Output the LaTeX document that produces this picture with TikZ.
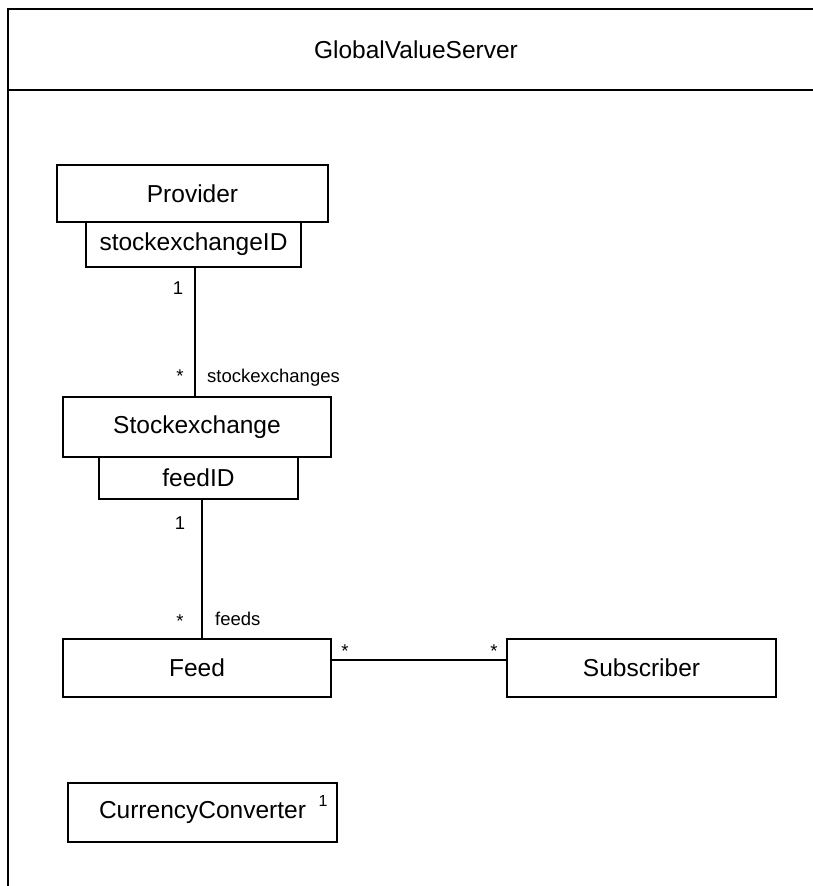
\documentclass[tikz,border=0pt]{standalone}
\usepackage{fontspec}
\setmainfont{Liberation Sans}
\begin{document}
\begin{tikzpicture}[x=1pt,y=-1pt,
  frame/.style={line width=1.4pt},
  cls/.style={draw, line width=1.4pt, inner sep=0pt, font=\fontsize{24.5}{28}\selectfont},
  lbl/.style={inner sep=0pt, font=\fontsize{18.5}{22}\selectfont},
  assoc/.style={line width=1.4pt}]
\useasboundingbox (0,0) rectangle (813,886);

% enclosing server frame, cut by the page edge on the right and bottom
\draw[frame] (8,886) -- (8,9) -- (813,9);
\draw[frame] (8,90) -- (813,90);
\node[font=\fontsize{24.5}{28}\selectfont] (title) at (416,50) {GlobalValueServer};

% classes and their qualifier boxes
\node[cls, minimum width=271pt, minimum height=57pt] (provider) at (192.5,193.5) {Provider};
\node[cls, minimum width=215pt, minimum height=45pt] (sid) at (193.5,244.5) {stockexchangeID};
\node[cls, minimum width=268pt, minimum height=60pt] (sx) at (197,427) {Stockexchange};
\node[cls, minimum width=199pt, minimum height=42pt] (fid) at (198.5,478) {feedID};
\node[cls, minimum width=268pt, minimum height=58pt] (feed) at (197,668) {Feed};
\node[cls, minimum width=269pt, minimum height=58pt] (sub) at (641.5,668) {Subscriber};
\node[cls, minimum width=269pt, minimum height=59pt] (cc) at (202.5,812.5) {CurrencyConverter};
\node[lbl, font=\fontsize{16}{19}\selectfont] (ccm) at (323,801) {1};

% associations
\coordinate (a1) at (195,0);
\coordinate (a2) at (202,0);
\coordinate (a3) at (0,660);
\draw[assoc] (sid.south -| a1) -- (sx.north -| a1);
\draw[assoc] (fid.south -| a2) -- (feed.north -| a2);
\draw[assoc] (feed.east |- a3) -- (sub.west |- a3);

% multiplicities and role names
\node[lbl] (m1) at (178,288) {1};
\node[lbl] (m2) at (180,376) {*};
\node[lbl, anchor=west] (r1) at (207,378) {stockexchanges};
\node[lbl] (m3) at (180,523) {1};
\node[lbl] (m4) at (180,621) {*};
\node[lbl, anchor=west] (r2) at (215,619) {feeds};
\node[lbl] (m5) at (345,651) {*};
\node[lbl] (m6) at (494,651) {*};
\end{tikzpicture}
\end{document}
